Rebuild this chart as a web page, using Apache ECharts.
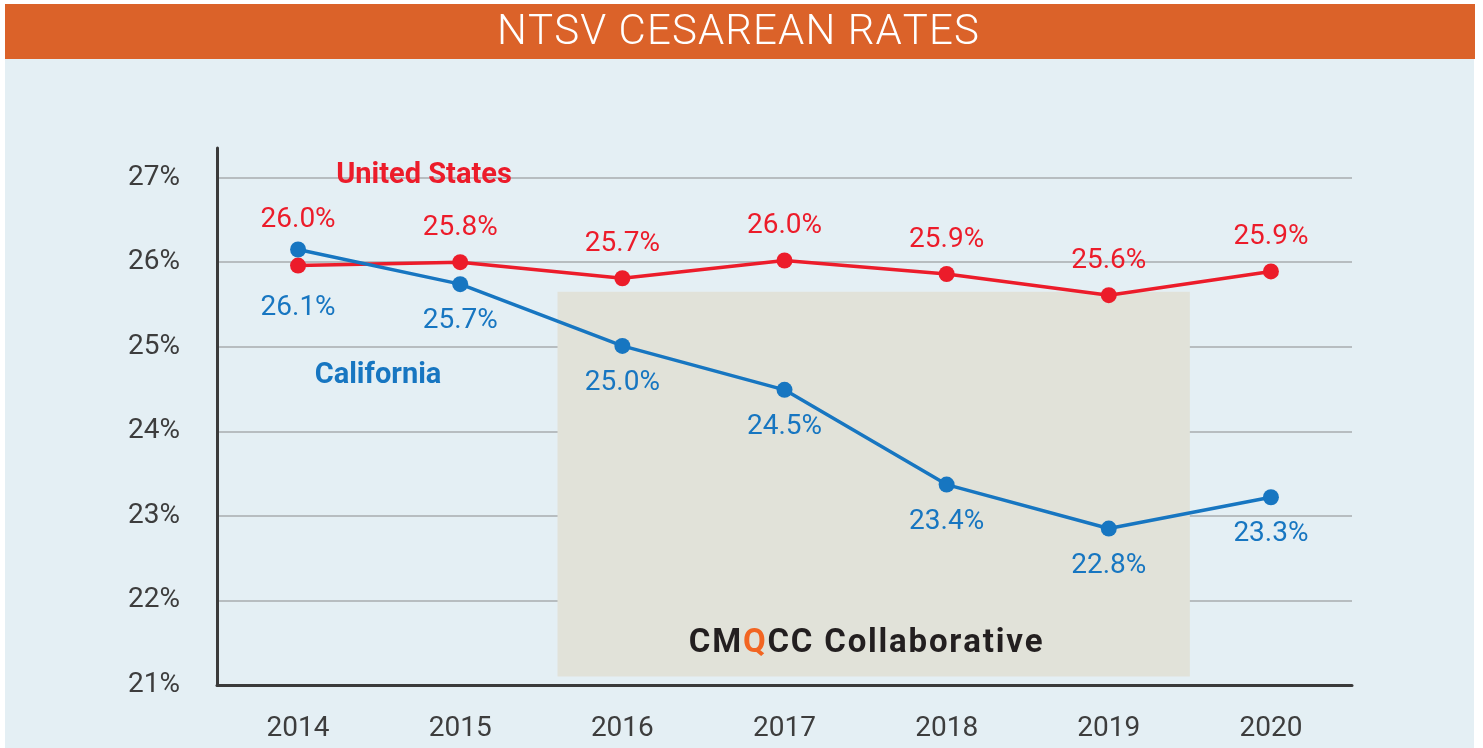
<!DOCTYPE html>
<html>
<head>
<meta charset="utf-8">
<script src="https://cdn.jsdelivr.net/npm/echarts@6/dist/echarts.min.js"></script>
<style>
  html, body { margin: 0; padding: 0; background: #ffffff; }
  #chart { width: 1483px; height: 748px; }
</style>
</head>
<body>
<div id="chart"></div>
<script>
// data
const years = ['2014', '2015', '2016', '2017', '2018', '2019', '2020']
const usValues = [25.96, 26.0, 25.81, 26.02, 25.86, 25.61, 25.89]
const usLabels = ['26.0%', '25.8%', '25.7%', '26.0%', '25.9%', '25.6%', '25.9%']
const caValues = [26.15, 25.74, 25.01, 24.49, 23.37, 22.85, 23.22]
const caLabels = ['26.1%', '25.7%', '25.0%', '24.5%', '23.4%', '22.8%', '23.3%']
const yTicks = [21, 22, 23, 24, 25, 26, 27]
// collaborative period box, in category slots (0..7) and percent
const boxStart = [2.1, 21.1]
const boxEnd = [6.0, 25.65]

const RED = '#ec1c2a'
const BLUE = '#1776c1'
const FONT = 'Roboto'

// canvas text has no letter-spacing, so each letter gets its own rich token
function spaced(str, styleFor) {
    return str.split('').map((ch, i) => '{' + styleFor(ch, i) + '|' + ch + '}').join('')
}

const chart = echarts.init(document.getElementById('chart'))

let option = {
    backgroundColor: '#ffffff',
    animation: false,
    textStyle: { fontFamily: FONT },
    graphic: [
        {
            type: 'rect',
            z: -10,
            shape: { x: 5, y: 58, width: 1469, height: 690 },
            style: { fill: '#e4eff4' },
        },
        {
            type: 'rect',
            z: -10,
            shape: { x: 5, y: 4, width: 1470, height: 55 },
            style: { fill: '#db6229' },
        },
        {
            type: 'text',
            x: 738,
            y: 33,
            style: {
                text: spaced('NTSV CESAREAN RATES', () => 't'),
                align: 'center',
                verticalAlign: 'middle',
                rich: {
                    t: { fontFamily: FONT, fontWeight: 300, fontSize: 42, color: '#ffffff', fill: '#ffffff', padding: [0, 0.55] },
                },
            },
        },
        {
            type: 'text',
            x: 424,
            y: 176,
            z: 20,
            style: {
                text: 'United States',
                fill: RED,
                font: 'bold 29px Roboto',
                align: 'center',
                verticalAlign: 'middle',
            },
        },
        {
            type: 'text',
            x: 378,
            y: 376,
            z: 20,
            style: {
                text: 'California',
                fill: BLUE,
                font: 'bold 29px Roboto',
                align: 'center',
                verticalAlign: 'middle',
            },
        },
    ],
    grid: {
        left: 217,
        right: 131,
        top: 148,
        bottom: 63,
        containLabel: false,
    },
    xAxis: [
        {
            type: 'category',
            data: years,
            boundaryGap: true,
            axisLine: { lineStyle: { color: '#3a3a3a', width: 3 } },
            axisTick: { show: false },
            axisLabel: { color: '#3d3d3d', fontSize: 28, margin: 30 },
            splitLine: { show: false },
        },
        {
            type: 'value',
            min: 0,
            max: 7,
            show: false,
        },
    ],
    yAxis: [
        {
            type: 'value',
            min: yTicks[0],
            max: 27.35,
            interval: 1,
            axisLine: { show: true, lineStyle: { color: '#3a3a3a', width: 3 } },
            axisTick: { show: false },
            axisLabel: {
                color: '#3d3d3d',
                fontSize: 28,
                margin: 37,
                padding: [4, 0, 0, 0],
                showMaxLabel: false,
                formatter: (v) => (yTicks.indexOf(v) >= 0 ? v + '%' : ''),
            },
            splitLine: {
                lineStyle: {
                    width: 1.5,
                    color: ['#a9adaf', '#a9adaf', '#a9adaf', '#a9adaf', '#a9adaf', '#a9adaf', '#a9adaf', 'rgba(0,0,0,0)'],
                },
            },
        },
    ],
    series: [
        {
            name: 'CMQCC Collaborative',
            type: 'line',
            xAxisIndex: 1,
            data: [],
            z: 1,
            markArea: {
                silent: true,
                itemStyle: { color: '#e1e2d9' },
                label: {
                    show: true,
                    position: 'insideBottom',
                    distance: 16,
                    offset: [-8, 0],
                    formatter: spaced('CMQCC Collaborative', (ch, i) => (i === 2 ? 'q' : 'a')),
                    rich: {
                        a: { fontSize: 33, fontWeight: 'bold', color: '#231f20', fontFamily: FONT, padding: [0, 0.9] },
                        q: { fontSize: 33, fontWeight: 'bold', color: '#f26522', fontFamily: FONT, padding: [0, 0.9] },
                    },
                },
                data: [[{ coord: boxStart }, { coord: boxEnd }]],
            },
        },
        {
            name: 'United States',
            type: 'line',
            data: usValues.map((v, i) => (i === 0 ? { value: v, label: { distance: 24 } } : v)),
            z: 5,
            color: RED,
            symbol: 'circle',
            symbolSize: 16,
            lineStyle: { width: 3.5, color: RED },
            itemStyle: { color: RED },
            label: {
                show: true,
                position: 'top',
                distance: 12,
                color: RED,
                fontSize: 28,
                formatter: (p) => usLabels[p.dataIndex],
            },
        },
        {
            name: 'California',
            type: 'line',
            data: caValues.map((v, i) => (i === 0 ? { value: v, label: { distance: 37 } } : v)),
            z: 6,
            color: BLUE,
            symbol: 'circle',
            symbolSize: 16,
            lineStyle: { width: 3.5, color: BLUE },
            itemStyle: { color: BLUE },
            label: {
                show: true,
                position: 'bottom',
                distance: 15,
                color: BLUE,
                fontSize: 28,
                formatter: (p) => caLabels[p.dataIndex],
            },
        },
    ],
}

chart.setOption(option)
</script>
</body>
</html>
